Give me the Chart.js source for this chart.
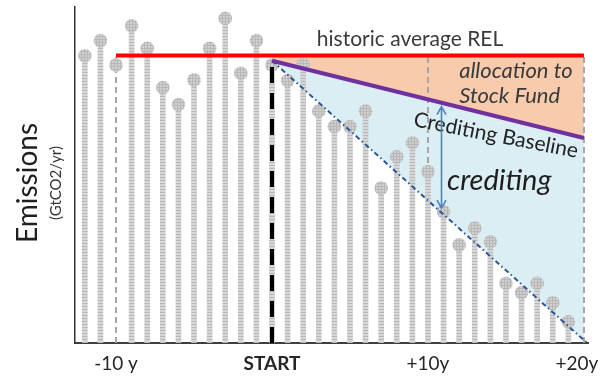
<!DOCTYPE html>
<html>
<head>
<meta charset="utf-8">
<script src="https://cdn.jsdelivr.net/npm/chart.js@4/dist/chart.umd.min.js"></script>
<style>
html,body{margin:0;padding:0;background:#ffffff;overflow:hidden;}
canvas{display:block;}
</style>
</head>
<body>
<canvas id="chart" width="602" height="380"></canvas>
<script>
// ---------- data ----------
const years = [-12,-11,-10,-9,-8,-7,-6,-5,-4,-3,-2,-1,0,1,2,3,4,5,6,7,8,9,10,11,12,13,14,15,16,17,18,19];
const emissions = [85.5,90,82.7,94.4,87.7,76,71,78.3,87.7,96.6,80.3,90,82.7,78.1,83,69,64.4,64.4,69,46.1,55.4,59.6,51,39.1,29.2,34.2,30.1,17.8,15,17.8,12,6.3];
const relYears = [-10, 20];
const relLevel = [85.6, 85.6];
const baselineYears = [0, 20];
const baselineLevel = [84, 61];
const trendYears = [0, 20.2];
const trendLevel = [84, 0];
const creditEdgeYears = [0, 20];
const creditEdgeLevel = [84, 0.9];
const guideYears = [-10, 10, 20];
const startYear = 0;
const tickYears = [-10, 0, 10, 20];
const tickLabels = ['-10 y', 'START', '+10y', '+20y'];
const yTitleText = 'Emissions';
const yUnitText = '(GtCO2/yr)';
const noteRel = 'historic average REL';
const noteAlloc = ['allocation to', 'Stock Fund'];
const noteBaseline = 'Crediting Baseline';
const noteCredit = 'crediting';

// ---------- helpers ----------
const pts = (xs, ys) => xs.map((x, i) => ({x: x, y: ys[i]}));
const relTop = relLevel[0];
const guideData = [];
guideYears.forEach(g => { guideData.push({x: g, y: 0}, {x: g, y: relTop}, {x: g, y: null}); });

const canvas = document.getElementById('chart');
const ctx0 = canvas.getContext('2d');
function pattern(w, h, bg, fg, rows, cols) {
  const c = document.createElement('canvas');
  c.width = w; c.height = h;
  const g = c.getContext('2d');
  g.fillStyle = bg; g.fillRect(0, 0, w, h);
  g.fillStyle = fg;
  if (rows) g.fillRect(0, 0, w, 1);
  if (cols) g.fillRect(0, 0, 1, h);
  return ctx0.createPattern(c, 'repeat');
}
const stemPattern = pattern(4, 3, '#d6d6d6', '#b9b9b9', true, false);
const dotPattern = pattern(3, 3, '#d0d0d0', '#b8b8b8', true, true);

function lerp(xs, ys, v) {
  return ys[0] + (ys[1] - ys[0]) * (v - xs[0]) / (xs[1] - xs[0]);
}

// ---------- annotation plugin ----------
const notes = {
  id: 'notes',
  afterLayout(chart) {
    ['yUnit', 'yName'].forEach(id => { const s = chart.scales[id]; s.top += 8; s.bottom += 8; });
  },
  afterDatasetsDraw(chart) {
    const c = chart.ctx;
    const x = chart.scales.x, y = chart.scales.y;
    const px = v => x.getPixelForValue(v), py = v => y.getPixelForValue(v);
    c.save();
    c.textBaseline = 'alphabetic';
    // historic average REL
    c.fillStyle = '#3a3a3a';
    c.font = '21px Lato';
    c.textAlign = 'center';
    c.fillText(noteRel, px(8.85), py(88.5));
    // allocation to Stock Fund
    c.font = 'italic 22px Lato';
    c.textAlign = 'left';
    c.fillText(noteAlloc[0], px(12.0), py(78.9));
    c.fillText(noteAlloc[1], px(12.0), py(71.4));
    // Crediting Baseline (rotated)
    c.save();
    c.translate(px(14.36), py(61.8));
    c.rotate(11 * Math.PI / 180);
    c.font = '21px Lato';
    c.fillStyle = '#222222';
    c.textAlign = 'center';
    c.textBaseline = 'middle';
    c.fillText(noteBaseline, 0, 0);
    c.restore();
    // crediting
    c.font = 'italic 29px Lato';
    c.fillStyle = '#1e1e1e';
    c.textAlign = 'left';
    c.fillText(noteCredit, px(11.22), py(45.5));
    // double arrow
    const ax = 10.83;
    const xa = Math.round(px(ax)) + 0.5;
    const yTop = py(lerp(baselineYears, baselineLevel, ax)) + 4;
    const yBot = py(lerp(trendYears, trendLevel, ax)) - 4;
    c.strokeStyle = '#4f81bd';
    c.lineWidth = 1.6;
    c.beginPath();
    c.moveTo(xa, yTop); c.lineTo(xa, yBot);
    c.moveTo(xa - 4.5, yTop + 8); c.lineTo(xa, yTop); c.lineTo(xa + 4.5, yTop + 8);
    c.moveTo(xa - 4.5, yBot - 8); c.lineTo(xa, yBot); c.lineTo(xa + 4.5, yBot - 8);
    c.stroke();
    c.restore();
  }
};

new Chart(canvas, {
  type: 'line',
  data: {
    datasets: [
      { // 0 REL line
        type: 'line', data: pts(relYears, relLevel), borderColor: '#ff0000', borderWidth: 4,
        pointRadius: 0, fill: false, order: 1
      },
      { // 1 START marker
        type: 'line', data: [{x: startYear, y: 0}, {x: startYear, y: relTop}], borderColor: '#000000',
        borderWidth: 4, borderDash: [16, 10], pointRadius: 0, fill: false, order: 2
      },
      { // 2 crediting baseline, orange fill up to REL
        type: 'line', data: pts(baselineYears, baselineLevel), borderColor: '#7030a0', borderWidth: 4,
        pointRadius: 0, fill: {value: relTop}, backgroundColor: '#f8cbad', order: 3
      },
      { // 3 emissions trend (dash-dot)
        type: 'line', data: pts(trendYears, trendLevel), borderColor: '#2f5496', borderWidth: 2,
        borderDash: [5, 3, 1.5, 3], pointRadius: 0, fill: false, order: 4
      },
      { // 4 lollipop heads
        type: 'scatter', data: pts(years, emissions), pointRadius: 6.8, pointBackgroundColor: dotPattern,
        pointBorderWidth: 0, showLine: false, order: 5
      },
      { // 5 lollipop stems
        type: 'bar', data: pts(years, emissions), barThickness: 5,
        backgroundColor: (ctx) => (ctx.raw && ctx.raw.x === -10) ? 'rgba(0,0,0,0)' : stemPattern,
        borderWidth: 0, order: 6
      },
      { // 6 grey dashed guides
        type: 'line', data: guideData, borderColor: '#a6a6a6', borderWidth: 2, borderDash: [6, 4],
        pointRadius: 0, spanGaps: false, fill: false, order: 7
      },
      { // 7 crediting area
        type: 'line', data: pts(creditEdgeYears, creditEdgeLevel), borderColor: 'rgba(0,0,0,0)', borderWidth: 0,
        pointRadius: 0, fill: 2, backgroundColor: '#daeef3', order: 8
      }
    ]
  },
  options: {
    responsive: false,
    devicePixelRatio: 1,
    animation: false,
    events: [],
    layout: {padding: {left: 0, right: 14, top: 7, bottom: 0}},
    plugins: {
      legend: {display: false},
      tooltip: {enabled: false},
      filler: {drawTime: 'beforeDatasetsDraw'}
    },
    scales: {
      x: {
        type: 'linear', min: -12.63, max: 20.26, offset: false,
        grid: {display: false, drawTicks: false},
        border: {display: true, color: '#3f3f3f', width: 2},
        afterBuildTicks: s => { s.ticks = tickYears.map(v => ({value: v})); },
        ticks: {
          autoSkip: false, maxRotation: 0, padding: 9, color: '#262626',
          font: (c) => ({family: 'Lato', size: 19, weight: (c.tick && c.tick.value === startYear) ? 'bold' : 'normal'}),
          callback: (v) => { const t = tickLabels[tickYears.indexOf(v)]; return v === 20 ? t + '\u00a0\u00a0\u00a0' : t; }
        },
        afterFit: s => { s.height = 37; s.paddingLeft = 0; s.paddingRight = 0; }
      },
      y: {
        type: 'linear', position: 'left', weight: 0, min: 0, max: 100,
        grid: {display: false, drawTicks: false},
        border: {display: true, color: '#333333', width: 1.5},
        ticks: {display: false},
        afterFit: s => { s.width = 0; }
      },
      yUnit: {
        type: 'linear', position: 'left', weight: 1, min: 0, max: 1,
        grid: {display: false, drawTicks: false}, border: {display: false}, ticks: {display: false},
        title: {display: true, text: yUnitText, color: '#333333', font: {family: 'Lato', size: 15}, padding: {top: 0, bottom: 0}},
        afterFit: s => { s.width = 28; }
      },
      yName: {
        type: 'linear', position: 'left', weight: 2, min: 0, max: 1,
        grid: {display: false, drawTicks: false}, border: {display: false}, ticks: {display: false},
        title: {display: true, text: yTitleText, color: '#1f1f1f', font: {family: 'Lato', size: 28}, padding: {top: 11.2, bottom: 0}},
        afterFit: s => { s.width = 47; }
      }
    }
  },
  plugins: [notes]
});
</script>
</body>
</html>
